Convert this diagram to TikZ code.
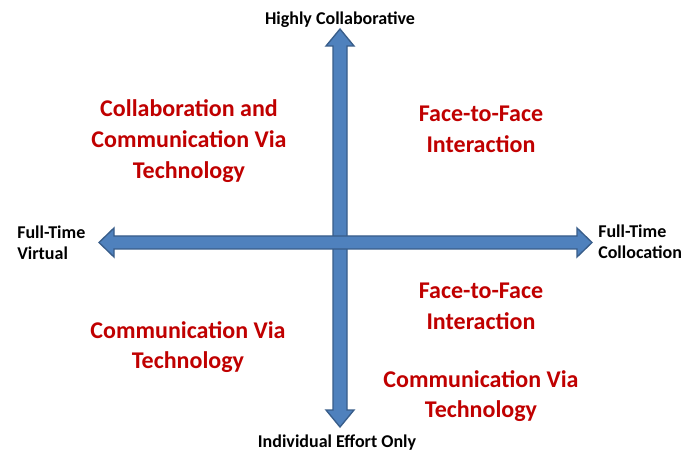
\documentclass[tikz,border=0pt]{standalone}
\usepackage{fontspec}
\setmainfont{Carlito}
\definecolor{arrfill}{HTML}{4F81BD}
\definecolor{arrline}{HTML}{385D8A}
\definecolor{quadred}{HTML}{C00000}
\begin{document}
\begin{tikzpicture}[x=0.75pt,y=-0.75pt,
  blockarrow/.style={fill=arrfill,draw=arrline,line width=1pt,line join=miter},
  axislabel/.style={font=\bfseries\fontsize{13.5pt}{16pt}\selectfont,text=black,inner sep=0pt},
  quadlabel/.style={font=\bfseries\fontsize{18pt}{23pt}\selectfont,text=quadred,align=center,inner sep=0pt}]
\useasboundingbox (0,0) rectangle (699,452);
\fill[white] (0,0) rectangle (699,452);
% vertical arrow
\draw[blockarrow] (340,29) -- (354,46) -- (347,46) -- (347,410) -- (354,410) -- (340,427)
  -- (326,410) -- (333,410) -- (333,46) -- (326,46) -- cycle;
% horizontal arrow
\draw[blockarrow] (99,242.5) -- (114,228) -- (114,236) -- (577,236) -- (577,228) -- (592,242.5)
  -- (577,257) -- (577,249) -- (114,249) -- (114,257) -- cycle;
% axis labels
\node[axislabel] (top) at (340,20) {Highly Collaborative};
\node[axislabel] (bottom) at (337,443) {Individual Effort Only};
\node[axislabel,align=left,anchor=west] (left) at (17,243) {Full-Time\\Virtual};
\node[axislabel,align=left,anchor=west] (right) at (598,242) {Full-Time\\Collocation};
% quadrant labels
\node[quadlabel] (q1) at (189,141) {Collaboration and\\Communication Via\\Technology};
\node[quadlabel] (q2) at (481,129) {Face-to-Face\\Interaction};
\node[quadlabel] (q3) at (481,306) {Face-to-Face\\Interaction};
\node[quadlabel] (q4) at (188,347) {Communication Via\\Technology};
\node[quadlabel] (q5) at (481,396) {Communication Via\\Technology};
\end{tikzpicture}
\end{document}
